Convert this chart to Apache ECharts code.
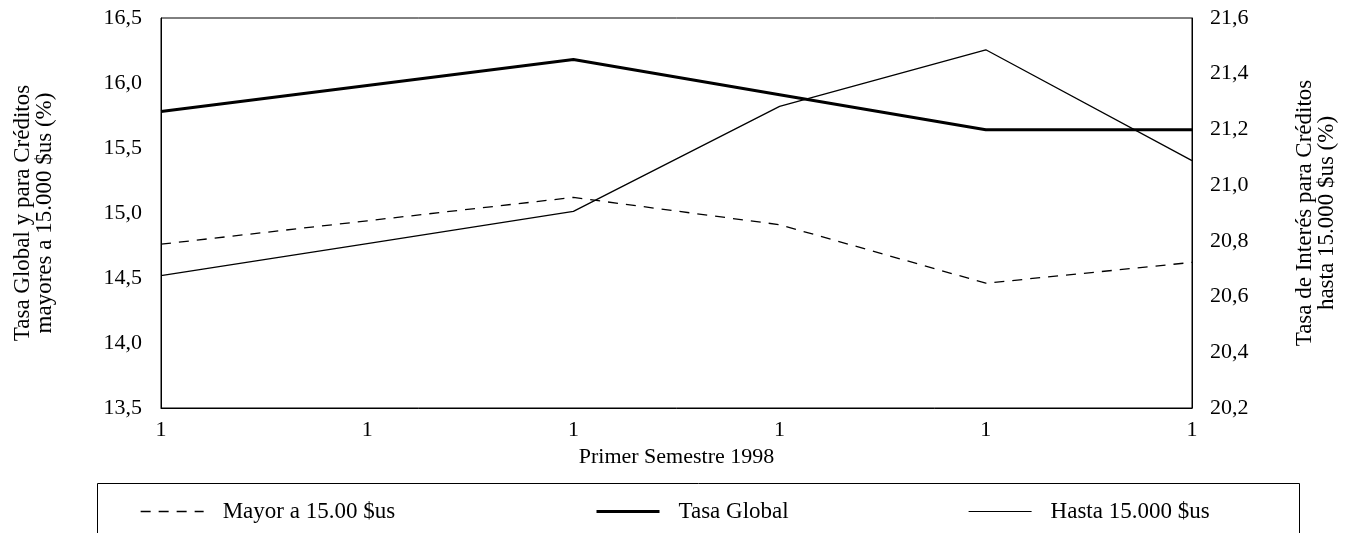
<!DOCTYPE html>
<html><head><meta charset="utf-8">
<script src="https://cdn.jsdelivr.net/npm/echarts@6/dist/echarts.min.js"></script>
<style>html,body{margin:0;padding:0;background:#fff}#c{width:1347px;height:533px}</style>
</head><body><div id="c"></div>
<script>
const categories = ['1','1','1','1','1','1'];
const mayorA15000 = [14.76, 14.94, 15.12, 14.91, 14.46, 14.62];
const tasaGlobal = [15.78, 15.98, 16.18, 15.91, 15.64, 15.64];
const hasta15000 = [20.675, 20.79, 20.906, 21.283, 21.486, 21.088];
const seriesNames = ['Mayor a 15.00 $us', 'Tasa Global', 'Hasta 15.000 $us'];

const FONT = 'Liberation Serif';
const chart = echarts.init(document.getElementById('c'));
const legendBase = {
  top: 500, itemWidth: 63, itemHeight: 14, padding: 0,
  itemStyle: { opacity: 0 },
  textStyle: { fontFamily: FONT, fontSize: 23, color: '#000', padding: [0,0,0,14] }
};
chart.setOption({
  animation: false,
  backgroundColor: '#fff',
  textStyle: { fontFamily: FONT },
  grid: { left: 161, right: 155, top: 18, bottom: 125, show: true, borderColor: '#000', borderWidth: 1 },
  graphic: [{ type: 'rect', shape: { x: 97.5, y: 483.5, width: 1202, height: 80 },
    style: { fill: 'none', stroke: '#000', lineWidth: 1 }, z: -1 }],
  legend: [
    Object.assign({}, legendBase, { left: 140, data: [seriesNames[0]], lineStyle: { width: 1.3, type: [10, 8], color: '#000' } }),
    Object.assign({}, legendBase, { left: 595, data: [seriesNames[1]], lineStyle: { width: 3, color: '#000' } }),
    Object.assign({}, legendBase, { left: 968, data: [seriesNames[2]], lineStyle: { width: 1.2, color: '#000' } })
  ],
  xAxis: {
    type: 'category', data: categories, boundaryGap: false,
    name: 'Primer Semestre 1998', nameLocation: 'middle', nameGap: 34,
    nameTextStyle: { fontFamily: FONT, fontSize: 22, color: '#000' },
    axisLine: { lineStyle: { color: '#000' } }, axisTick: { show: false },
    axisLabel: { interval: 0, margin: 11, fontFamily: FONT, fontSize: 22, color: '#000' },
    splitLine: { show: false }
  },
  yAxis: [{
    type: 'value', min: 13.5, max: 16.5, interval: 0.5, position: 'left',
    name: 'Tasa Global y para Créditos\nmayores a 15.000 $us (%)', nameLocation: 'middle', nameGap: 105, nameRotate: 90,
    nameTextStyle: { fontFamily: FONT, fontSize: 23, color: '#000', lineHeight: 22 },
    axisLine: { show: true, lineStyle: { color: '#000' } }, axisTick: { show: false }, splitLine: { show: false },
    axisLabel: { margin: 19, fontFamily: FONT, fontSize: 22, color: '#000', formatter: v => v.toFixed(1).replace('.', ',') }
  }, {
    type: 'value', min: 20.2, max: 21.6, interval: 0.2, position: 'right',
    name: 'Tasa de Interés para Créditos\nhasta 15.000 $us (%)', nameLocation: 'middle', nameGap: 102, nameRotate: 90,
    nameTextStyle: { fontFamily: FONT, fontSize: 23, color: '#000', lineHeight: 22 },
    axisLine: { show: true, lineStyle: { color: '#000' } }, axisTick: { show: false }, splitLine: { show: false },
    axisLabel: { margin: 18, fontFamily: FONT, fontSize: 22, color: '#000', formatter: v => v.toFixed(1).replace('.', ',') }
  }],
  series: [
    { name: seriesNames[0], type: 'line', data: mayorA15000, yAxisIndex: 0, symbol: 'none',
      lineStyle: { color: '#000', width: 1.3, type: [10, 8] }, itemStyle: { color: '#000' } },
    { name: seriesNames[1], type: 'line', data: tasaGlobal, yAxisIndex: 0, symbol: 'none',
      lineStyle: { color: '#000', width: 3 }, itemStyle: { color: '#000' } },
    { name: seriesNames[2], type: 'line', data: hasta15000, yAxisIndex: 1, symbol: 'none',
      lineStyle: { color: '#000', width: 1.3 }, itemStyle: { color: '#000' } }
  ]
});
</script></body></html>
